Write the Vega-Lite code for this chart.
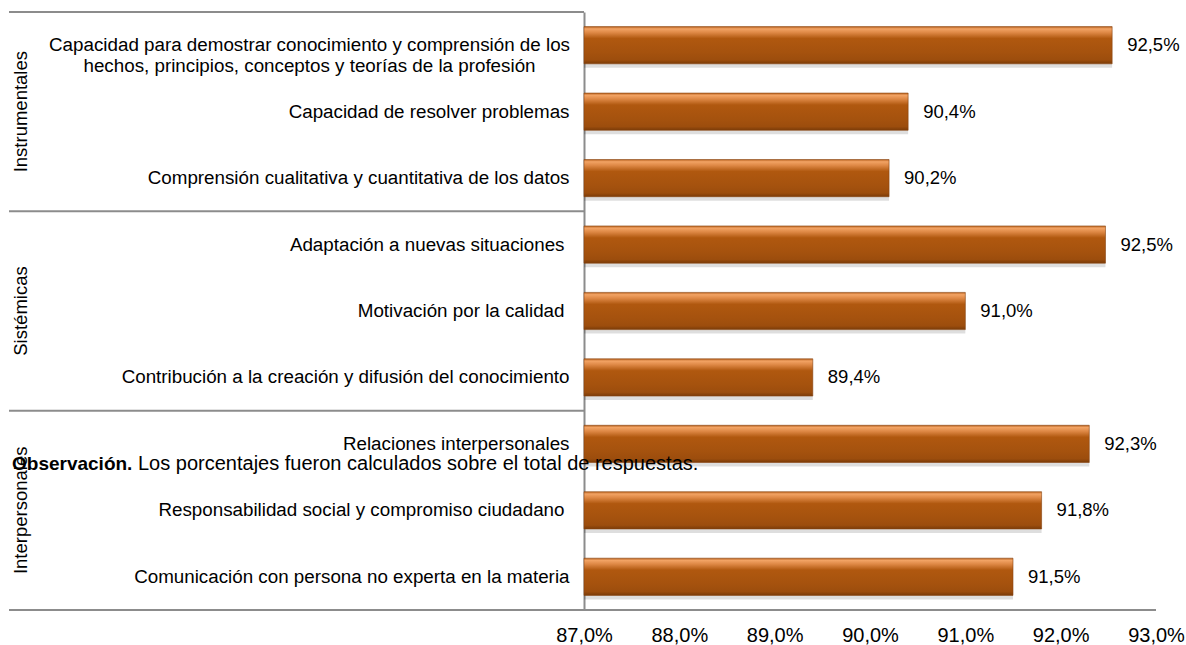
{
  "$schema": "https://vega.github.io/schema/vega-lite/v6.json",
  "width": 572,
  "height": 598,
  "autosize": "none",
  "padding": {"left": 584, "top": 12, "right": 30, "bottom": 35},
  "background": "white",
  "config": {
    "view": {"stroke": null},
    "font": "Liberation Sans",
    "locale": {"number": {"decimal": ",", "thousands": ".", "grouping": [3], "currency": ["", " €"]}}
  },
  "datasets": {
    "skills": [
      {"group": "Instrumentales", "skill": "Capacidad para demostrar conocimiento y comprensión de los|hechos, principios, conceptos y teorías  de la profesión", "pct": 0.9254},
      {"group": "Instrumentales", "skill": "Capacidad de resolver problemas", "pct": 0.904},
      {"group": "Instrumentales", "skill": "Comprensión cualitativa y cuantitativa de los datos", "pct": 0.902},
      {"group": "Sistémicas", "skill": "Adaptación a nuevas situaciones ", "pct": 0.9247},
      {"group": "Sistémicas", "skill": "Motivación por la calidad ", "pct": 0.910},
      {"group": "Sistémicas", "skill": "Contribución a la creación y difusión del conocimiento", "pct": 0.894},
      {"group": "Interpersonales", "skill": "Relaciones interpersonales", "pct": 0.923},
      {"group": "Interpersonales", "skill": "Responsabilidad social y compromiso ciudadano ", "pct": 0.918},
      {"group": "Interpersonales", "skill": "Comunicación con persona no experta en la materia", "pct": 0.915}
    ],
    "groups": [
      {"group": "Instrumentales", "mid": 1.5},
      {"group": "Sistémicas", "mid": 4.5},
      {"group": "Interpersonales", "mid": 7.5}
    ],
    "bounds": [{"b": 0}, {"b": 3}, {"b": 6}],
    "bottom": [{"b": 9}],
    "note": [{"bold": "Observación.", "rest": "Los porcentajes fueron calculados sobre el total de respuestas."}]
  },
  "resolve": {"scale": {"y": "independent"}},
  "layer": [
    {
      "data": {"name": "skills"},
      "encoding": {
        "y": {
          "field": "skill", "type": "nominal", "sort": null,
          "scale": {"paddingInner": 0.44, "paddingOuter": 0.22},
          "axis": {
            "title": null, "domain": true, "domainColor": "#8c8c8c", "domainWidth": 2,
            "ticks": false, "grid": false,
            "labelAlign": {"condition": {"test": "indexof(datum.label, '|') >= 0", "value": "center"}, "value": "right"},
            "labelPadding": {"condition": [
              {"test": "indexof(datum.label, '|') >= 0", "value": 275},
              {"test": "substring(datum.label, length(datum.label) - 1) == ' '", "value": 20}
            ], "value": 15},
            "labelFontSize": 18.8,
            "labelColor": "#000000", "labelLimit": 800, "labelLineHeight": 21,
            "labelFont": "Liberation Sans", "labelExpr": "split(datum.label, '|')"
          }
        },
        "x": {
          "field": "pct", "type": "quantitative",
          "scale": {"domain": [0.87, 0.93], "zero": false, "nice": false},
          "axis": {
            "title": null, "domain": false, "ticks": false, "grid": false,
            "values": [0.87, 0.88, 0.89, 0.90, 0.91, 0.92, 0.93],
            "format": ".1%", "labelFontSize": 20, "labelPadding": 15,
            "labelColor": "#000000", "labelFlush": false, "labelOverlap": false,
            "labelBound": false, "labelFont": "Liberation Sans"
          }
        }
      },
      "layer": [
        {
          "mark": {"type": "bar", "color": "#000000", "opacity": 0.13, "yOffset": 4},
          "encoding": {"x2": {"datum": 0.87}}
        },
        {
          "mark": {
            "type": "bar",
            "color": {
              "gradient": "linear", "x1": 0, "y1": 0, "x2": 0, "y2": 1,
              "stops": [
                {"offset": 0, "color": "#b8621f"},
                {"offset": 0.06, "color": "#f2a364"},
                {"offset": 0.16, "color": "#de8845"},
                {"offset": 0.32, "color": "#b0580f"},
                {"offset": 0.7, "color": "#a5520e"},
                {"offset": 0.9, "color": "#9c4d0d"},
                {"offset": 1, "color": "#7a3b08"}
              ]
            },
            "stroke": "#8a4510", "strokeWidth": 0.6
          },
          "encoding": {"x2": {"datum": 0.87}}
        },
        {
          "mark": {"type": "text", "align": "left", "baseline": "middle", "dx": 15, "fontSize": 18.5, "color": "#000000", "font": "Liberation Sans"},
          "encoding": {"text": {"field": "pct", "type": "quantitative", "format": ".1%"}}
        }
      ]
    },
    {
      "layer": [
        {
          "data": {"name": "bounds"},
          "mark": {"type": "rule", "color": "#8c8c8c", "strokeWidth": 2},
          "encoding": {
            "y": {"field": "b", "type": "quantitative", "scale": {"domain": [0, 9], "reverse": true, "nice": false, "zero": false}, "axis": null},
            "x": {"datum": 0.809685, "type": "quantitative", "scale": {"domain": [0.87, 0.93], "zero": false, "nice": false}},
            "x2": {"datum": 0.87}
          }
        },
        {
          "data": {"name": "bottom"},
          "mark": {"type": "rule", "color": "#8c8c8c", "strokeWidth": 2},
          "encoding": {
            "y": {"field": "b", "type": "quantitative", "scale": {"domain": [0, 9], "reverse": true, "nice": false, "zero": false}, "axis": null},
            "x": {"datum": 0.809685, "type": "quantitative", "scale": {"domain": [0.87, 0.93], "zero": false, "nice": false}},
            "x2": {"datum": 0.93}
          }
        },
        {
          "data": {"name": "groups"},
          "mark": {"type": "text", "angle": 270, "align": "center", "baseline": "middle", "fontSize": 18.5, "color": "#000000", "font": "Liberation Sans"},
          "encoding": {
            "y": {"field": "mid", "type": "quantitative", "scale": {"domain": [0, 9], "reverse": true, "nice": false, "zero": false}, "axis": null},
            "x": {"datum": 0.81094, "type": "quantitative", "scale": {"domain": [0.87, 0.93], "zero": false, "nice": false}},
            "text": {"field": "group"}
          }
        },
        {
          "data": {"name": "note"},
          "mark": {"type": "text", "align": "left", "baseline": "middle", "fontSize": 19, "fontWeight": "bold", "color": "#000000", "font": "Liberation Sans"},
          "encoding": {
            "y": {"datum": 6.8, "type": "quantitative", "scale": {"domain": [0, 9], "reverse": true, "nice": false, "zero": false}, "axis": null},
            "x": {"datum": 0.81, "type": "quantitative", "scale": {"domain": [0.87, 0.93], "zero": false, "nice": false}},
            "text": {"field": "bold"}
          }
        },
        {
          "data": {"name": "note"},
          "mark": {"type": "text", "align": "left", "baseline": "middle", "dx": 126, "fontSize": 20, "color": "#000000", "font": "Liberation Sans"},
          "encoding": {
            "y": {"datum": 6.8, "type": "quantitative", "scale": {"domain": [0, 9], "reverse": true, "nice": false, "zero": false}, "axis": null},
            "x": {"datum": 0.81, "type": "quantitative", "scale": {"domain": [0.87, 0.93], "zero": false, "nice": false}},
            "text": {"field": "rest"}
          }
        }
      ]
    }
  ]
}
